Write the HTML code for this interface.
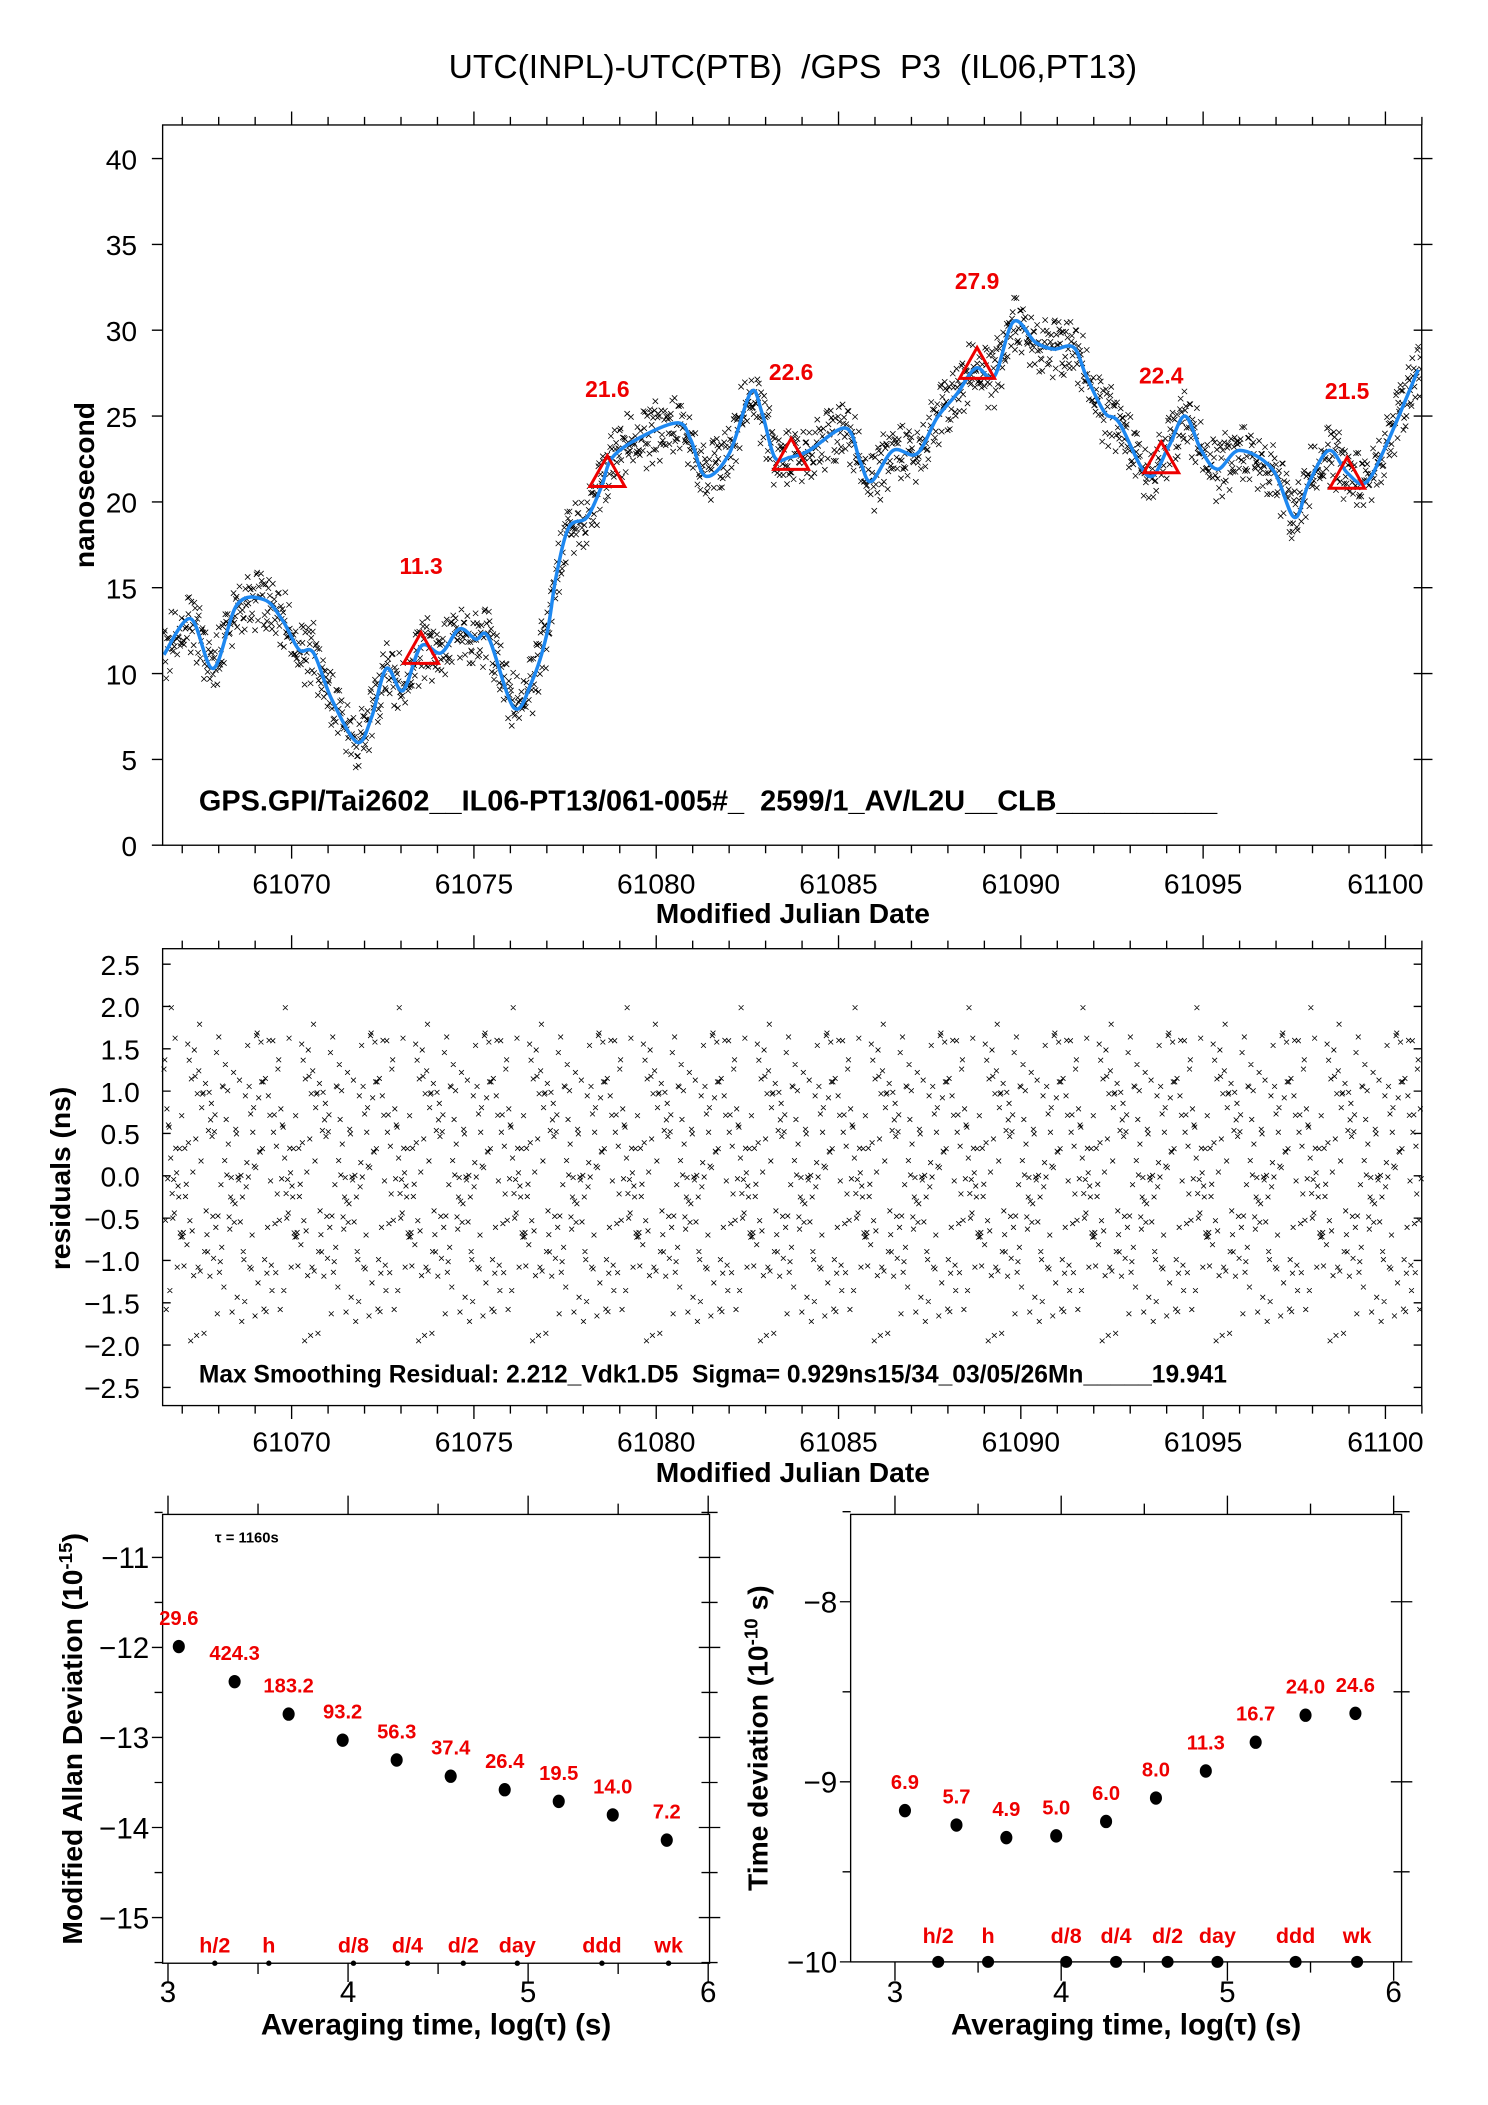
<!DOCTYPE html>
<html><head><meta charset="utf-8"><style>
html,body{margin:0;padding:0;background:#fff}
svg{display:block}
text{font-family:"Liberation Sans",sans-serif;white-space:pre}
</style></head><body>
<svg id="fig" width="1488" height="2105" viewBox="0 0 1107.3 1566.5" xmlns="http://www.w3.org/2000/svg">
<text x="590" y="58" font-size="25" text-anchor="middle" xml:space="preserve">UTC(INPL)-UTC(PTB)  /GPS  P3  (IL06,PT13)</text>
<g id="topPanel"></g>
<g id="midPanel"></g>
<g id="blPanel"></g>
<g id="brPanel"></g>
</svg>
<script>
// ---- data ----
const smoothTimes = [61066.5,61067.23,61067.85,61068.5,61069.25,61069.75,61070.2,61070.6,61071.1,61071.8,61072.2,61072.6,61073.05,61073.55,61074.1,61074.6,61075.05,61075.4,61076.1,61076.6,61077.0,61077.25,61077.6,61078.1,61078.5,61078.8,61079.6,61080.6,61080.95,61081.35,61082.0,61082.6,61082.9,61083.25,61083.67,61084.2,61085.2,61085.6,61085.9,61086.5,61087.15,61087.7,61088.25,61088.77,61089.27,61089.8,61090.4,61090.9,61091.45,61091.8,61092.3,61092.7,61093.5,61094.05,61094.5,61094.95,61095.4,61096.0,61096.9,61097.5,61097.9,61098.45,61098.95,61099.45,61100.0,61100.9];
const smoothValues = [11.1,13.2,10.3,14.0,14.3,13.1,11.4,11.2,8.5,6.0,7.5,10.3,9.0,11.6,11.2,12.6,12.0,12.1,8.0,9.6,12.3,15.6,18.5,19.1,20.9,22.6,23.8,24.6,23.6,21.5,22.8,26.4,25.2,22.6,22.6,23.0,24.3,22.3,21.2,23.0,22.8,24.9,26.3,27.8,27.3,30.5,29.3,28.9,29.0,27.3,25.2,24.6,21.5,23.2,25.0,23.0,21.9,23.0,21.9,19.1,21.1,23.0,21.7,21.1,23.2,27.7];
const markerDays = [61073.55,61078.66,61083.7,61088.8,61093.85,61098.95];
const markerValues = [11.3,21.6,22.6,27.9,22.4,21.5];
const residuals = [1.2,-0.4,0.7,-1.6,0.1,1.9,-0.9,0.4,-1.2,1.5,-0.2,0.9,-1.9,0.3,1.1,-0.7,-1.4,0.6,2.0,-0.1,-1.0,0.8,-0.5,1.6,-1.7,0.2,1.3,-0.8,0.5,-1.3,1.8,-0.3,0.0,-1.1,1.0,-2.0,0.4,1.4,-0.6,0.9,-1.5,0.2,1.7,-0.9,-0.3,1.2,-1.8,0.6,-0.1,1.9,-1.2,0.3,0.8,-0.4,-1.6,1.1,-0.8,0.5,1.5,-1.0,0.1,-1.4,2.1,-0.6,0.7,-0.2,1.3,-1.9,0.4,-0.7,1.0,-1.1,0.2,1.6,-0.5,-1.3,0.9,-0.1,1.4,-1.7,0.6,-0.9,1.8,-0.3,0.3,-1.5,1.1,-0.4,-2.1,0.8,1.2,-0.8,0.0,1.7,-1.2,0.5,-0.6,1.5,-1.0,0.2,-1.8,0.9,1.3,-0.2,-1.4,0.7,1.9,-0.7,0.4,-1.1,1.0,-1.6,0.1,1.6,-0.5,-0.9,1.2,-0.3,0.6,-1.3,2.0,-1.9,0.3,0.8,-0.6,1.4,-1.0,-0.2,1.1,-1.5,0.5,1.7,-0.8,0.0,-1.2,0.9,-0.4,1.3,-1.7,0.7,-0.1,1.8,-1.1,0.2,-0.7,1.5,-1.4,0.4,1.0,-0.5,-2.0,1.2,-0.3,0.6];
const mjdTicks = [61070,61075,61080,61085,61090,61095,61100];
const nsTicks = [0,5,10,15,20,25,30,35,40];
const resTicks = [-2.5,-2.0,-1.5,-1.0,-0.5,0.0,0.5,1.0,1.5,2.0,2.5];
const logTau = [3.06,3.37,3.67,3.97,4.27,4.57,4.87,5.17,5.47,5.77];
const mdevValues = [-11.99,-12.38,-12.74,-13.03,-13.25,-13.43,-13.58,-13.71,-13.86,-14.14];
const mdevLabels = ["29.6","424.3","183.2","93.2","56.3","37.4","26.4","19.5","14.0","7.2"];
const tdevValues = [-9.16,-9.24,-9.31,-9.30,-9.22,-9.09,-8.94,-8.78,-8.63,-8.62];
const tdevLabels = ["6.9","5.7","4.9","5.0","6.0","8.0","11.3","16.7","24.0","24.6"];
const refTau = [3.26,3.56,4.03,4.33,4.64,4.94,5.41,5.78];
const refLabels = ["h/2","h","d/8","d/4","d/2","day","ddd","wk"];

const NS="http://www.w3.org/2000/svg";
function mk(p,tag,a){const e=document.createElementNS(NS,tag);for(const k in a)e.setAttribute(k,a[k]);p.appendChild(e);return e;}
function smooth(t){const n=smoothTimes.length;if(t<=smoothTimes[0])return smoothValues[0];if(t>=smoothTimes[n-1])return smoothValues[n-1];
 let i=0;while(smoothTimes[i+1]<t)i++;const f=(t-smoothTimes[i])/(smoothTimes[i+1]-smoothTimes[i]);return smoothValues[i]+(smoothValues[i+1]-smoothValues[i])*f;}
function crosses(pts,s){let d="";for(const [x,y] of pts){d+=`M${(x-s).toFixed(1)} ${(y-s).toFixed(1)}L${(x+s).toFixed(1)} ${(y+s).toFixed(1)}M${(x-s).toFixed(1)} ${(y+s).toFixed(1)}L${(x+s).toFixed(1)} ${(y-s).toFixed(1)}`;}return d;}
function box(g,B){const r=mk(g,'rect',{x:B.l,y:B.t,width:B.r-B.l,height:B.b-B.t,fill:'none',stroke:'#000','stroke-width':1});
 
 }

// ---- top panel ----
const topG=document.getElementById('topPanel');
const T={l:121,r:1058,t:93,b:629};
const tx=d=>217+(d-61070)*27.133, ty=v=>629-v*12.775;
const tclip=mk(topG,'clipPath',{id:'tc'});mk(tclip,'rect',{x:T.l,y:T.t,width:T.r-T.l,height:T.b-T.t});
let pts=[];const N=1700;
for(let i=0;i<N;i++){const t=61066.5+i*34.5/N;const r=residuals[(i*37)%residuals.length]*0.8+residuals[(i*11)%residuals.length]*0.25;pts.push([tx(t),ty(smooth(t)+r)]);}
const sc=mk(topG,'path',{d:crosses(pts,2),stroke:'#000','stroke-width':0.6,fill:'none','clip-path':'url(#tc)'});


const P=smoothTimes.map((t,i)=>[tx(t),ty(smoothValues[i])]);
let ld=`M${P[0][0].toFixed(1)} ${P[0][1].toFixed(1)}`;
for(let i=0;i<P.length-1;i++){const p0=P[Math.max(i-1,0)],p1=P[i],p2=P[i+1],p3=P[Math.min(i+2,P.length-1)];
 const c1=[p1[0]+(p2[0]-p0[0])/6,p1[1]+(p2[1]-p0[1])/6],c2=[p2[0]-(p3[0]-p1[0])/6,p2[1]-(p3[1]-p1[1])/6];
 ld+=`C${c1[0].toFixed(1)} ${c1[1].toFixed(1)} ${c2[0].toFixed(1)} ${c2[1].toFixed(1)} ${p2[0].toFixed(1)} ${p2[1].toFixed(1)}`;}
const line=mk(topG,'path',{d:ld,stroke:'#1e88f0','stroke-width':2.6,fill:'none','stroke-linejoin':'round','clip-path':'url(#tc)'});


markerDays.forEach((d,i)=>{const x=tx(d),y=ty(markerValues[i]);
 const tr=mk(topG,'polygon',{points:`${x},${y-14} ${x-13},${y+9} ${x+13},${y+9}`,fill:'none',stroke:'#e00','stroke-width':2.2});
 
 
 const lb=mk(topG,'text',{x:x,y:ty(markerValues[i]+4.5),'font-size':17,'font-weight':'bold',fill:'#e00','text-anchor':'middle'});lb.textContent=markerValues[i].toFixed(1);
 
 });
box(topG,T);
let tk="";
for(let d=61067;d<=61101;d++){const x=tx(d);const L=(d%5==0)?10:6;tk+=`M${x} ${T.t}V${T.t-L}M${x} ${T.b}V${T.b+L}`;}
nsTicks.forEach(v=>{const y=ty(v);tk+=`M${T.l} ${y}H${T.l-8}M${T.r-6} ${y}H${T.r+8}`;});
mk(topG,'path',{d:tk,stroke:'#000','stroke-width':1});
mjdTicks.forEach(d=>{const t=mk(topG,'text',{x:tx(d),y:665,'font-size':21,'text-anchor':'middle'});t.textContent=d;
 
 });
nsTicks.forEach(v=>{const t=mk(topG,'text',{x:102,y:ty(v)+8,'font-size':21,'text-anchor':'end'});t.textContent=v;
 
 });
let e=mk(topG,'text',{x:590,y:687,'font-size':21,'font-weight':'bold','text-anchor':'middle'});e.textContent='Modified Julian Date';


e=mk(topG,'text',{transform:'translate(70,361) rotate(-90)','font-size':21,'font-weight':'bold','text-anchor':'middle'});e.textContent='nanosecond';


e=mk(topG,'text',{x:148,y:603,'font-size':21.5,'font-weight':'bold'});e.textContent='GPS.GPI/Tai2602__IL06-PT13/061-005#_  2599/1_AV/L2U__CLB__________';



// ---- middle panel ----
const midG=document.getElementById('midPanel');
const M={l:121,r:1058,t:706,b:1046};
const mx=tx, my=v=>875-v*63;
pts=[];
for(let i=0;i<N;i++){const t=61066.5+i*34.5/N;const r=residuals[(i*37)%residuals.length]*0.85+residuals[(i*11)%residuals.length]*0.2;pts.push([mx(t),my(r)]);}
e=mk(midG,'path',{d:crosses(pts,1.8),stroke:'#000','stroke-width':0.6,fill:'none'});


box(midG,M);
tk="";
for(let d=61067;d<=61101;d++){const x=mx(d);const L=(d%5==0)?10:6;tk+=`M${x} ${M.t}V${M.t-L}M${x} ${M.b}V${M.b+L}`;}
resTicks.forEach(v=>{const y=my(v);tk+=`M${M.l} ${y}H${M.l+6}M${M.r-6} ${y}H${M.r}`;});
mk(midG,'path',{d:tk,stroke:'#000','stroke-width':1});
mjdTicks.forEach(d=>{const t=mk(midG,'text',{x:mx(d),y:1080,'font-size':21,'text-anchor':'middle'});t.textContent=d;
 
 });
resTicks.forEach(v=>{const t=mk(midG,'text',{x:104,y:my(v)+8,'font-size':21,'text-anchor':'end'});t.textContent=(v<0?'\u2212':'')+Math.abs(v).toFixed(1);
 
 });
e=mk(midG,'text',{x:590,y:1103,'font-size':21,'font-weight':'bold','text-anchor':'middle'});e.textContent='Modified Julian Date';


e=mk(midG,'text',{transform:'translate(52,877) rotate(-90)','font-size':21,'font-weight':'bold','text-anchor':'middle'});e.textContent='residuals (ns)';


e=mk(midG,'text',{x:148,y:1029,'font-size':18.3,'font-weight':'bold'});e.textContent='Max Smoothing Residual: 2.212_Vdk1.D5  Sigma= 0.929ns15/34_03/05/26Mn_____19.941';



// ---- stability panels ----
function stab(g,B,xs,ys,yTicks,yMinor,vals,labels,refY,refDotR,refLabY,ylabel,sup,suffix,ylabX){
  box(g,B);
  let d="";
  [3,3.5,4,4.5,5,5.5,6].forEach(v=>{const x=xs(v);const L=(v%1==0)?14:8;d+=`M${x} ${B.t}V${B.t-L}M${x} ${B.b}V${B.b+L}`;});
  yMinor.forEach(v=>{const y=ys(v);d+=`M${B.l} ${y}H${B.l-6}M${B.r-6} ${y}H${B.r+6}`;});
  yTicks.forEach(v=>{const y=ys(v);d+=`M${B.l} ${y}H${B.l-8}M${B.r-8} ${y}H${B.r+8}`;});
  mk(g,'path',{d:d,stroke:'#000','stroke-width':1});
  [3,4,5,6].forEach(v=>{const t=mk(g,'text',{x:xs(v),y:1490,'font-size':22,'text-anchor':'middle'});t.textContent=v;
    
    });
  yTicks.forEach(v=>{const t=mk(g,'text',{x:B.l-10,y:ys(v)+8,'font-size':22,'text-anchor':'end'});t.textContent='\u2212'+Math.abs(v);
    
    });
  logTau.forEach((lt,i)=>{const c=mk(g,'ellipse',{cx:xs(lt),cy:ys(vals[i]),rx:4.5,ry:5,fill:'#000'});
    
    
    const t=mk(g,'text',{x:xs(lt),y:ys(vals[i])-16,'font-size':15,'font-weight':'bold',fill:'#e00','text-anchor':'middle'});t.textContent=labels[i];
    
    });
  refTau.forEach((lt,i)=>{const c=mk(g,'circle',{cx:xs(lt),cy:refY,r:refDotR,fill:'#000'});
    
    
    const t=mk(g,'text',{x:xs(lt),y:refLabY,'font-size':16,'font-weight':'bold',fill:'#e00','text-anchor':'middle'});t.textContent=refLabels[i];
    
    });
  let t=mk(g,'text',{x:(B.l+B.r)/2,y:1514,'font-size':22,'font-weight':'bold','text-anchor':'middle'});t.textContent='Averaging time, log(\u03c4) (s)';
  
  
  t=mk(g,'text',{transform:`translate(${ylabX},${(B.t+B.b)/2}) rotate(-90)`,'font-size':21,'font-weight':'bold','text-anchor':'middle'});
  
  
  t.appendChild(document.createTextNode(ylabel));
  const s=mk(t,'tspan',{'baseline-shift':'super','font-size':14});s.textContent=sup;
  const s2=mk(t,'tspan',{});s2.textContent=suffix;
}
const blG=document.getElementById('blPanel');
const BL={l:121,r:528,t:1127,b:1461};
stab(blG,BL,v=>125+(v-3)*134,v=>1159-(v+11)*67,[-11,-12,-13,-14,-15],[-10.5,-11.5,-12.5,-13.5,-14.5,-15.5],mdevValues,mdevLabels,1461,2,1453,'Modified Allan Deviation (10','-15',')',61);
e=mk(blG,'text',{x:160,y:1148,'font-size':11,'font-weight':'bold'});e.textContent='\u03c4 = 1160s';


const brG=document.getElementById('brPanel');
const BR={l:633,r:1043,t:1127,b:1460};
stab(brG,BR,v=>666+(v-3)*123.7,v=>1192-(v+8)*134,[-8,-9,-10],[-7.5,-8.5,-9.5],tdevValues,tdevLabels,1460,4.5,1446,'Time deviation (10','-10',' s)',571);
</script>
</body></html>
